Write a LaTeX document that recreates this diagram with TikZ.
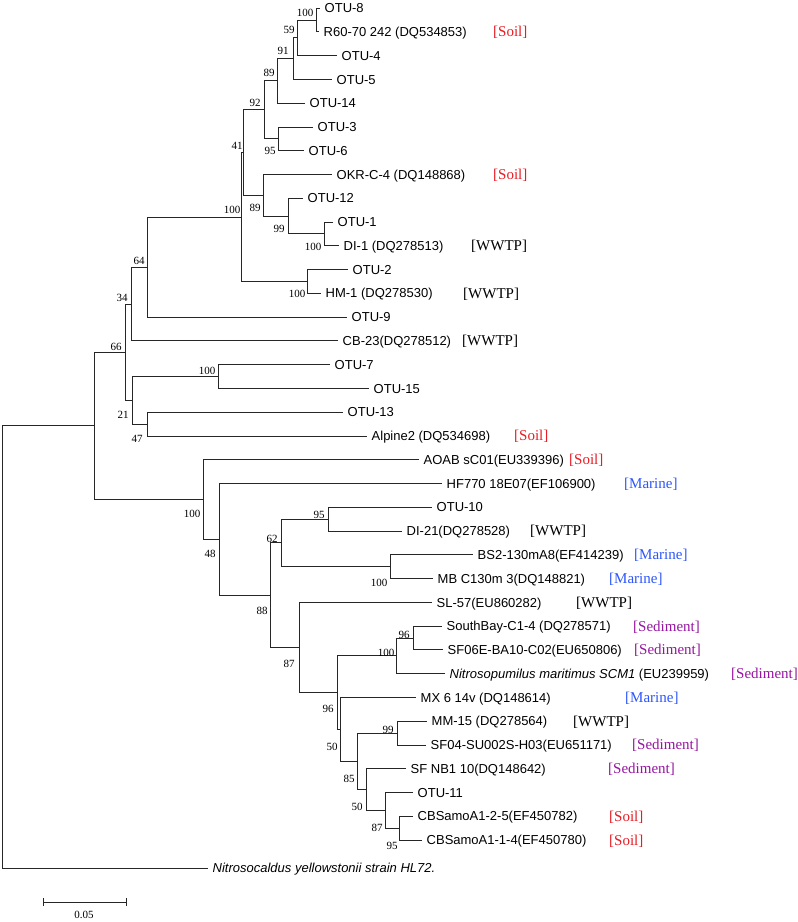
\documentclass[tikz,border=0pt]{standalone}
\usepackage{fontspec}
\setmainfont{Liberation Serif}
\newfontfamily\hv{Liberation Sans}
\definecolor{soil}{RGB}{232,28,36}
\definecolor{marine}{RGB}{45,85,250}
\definecolor{sediment}{RGB}{150,20,160}
\begin{document}
\begin{tikzpicture}[x=1pt,y=-1pt,
  leaf/.style={anchor=west,inner xsep=4.5pt,inner ysep=0pt,font=\hv\fontsize{13}{15}\selectfont,text height=9.5pt,text depth=0pt},
  hab/.style={anchor=west,inner sep=0pt,font=\fontsize{15}{17}\selectfont,text height=10pt,text depth=0pt},
  bs/.style={anchor=center,inner sep=0pt,font=\fontsize{11}{13}\selectfont},
  br/.style={draw=black!85,line width=0.8pt}]
\useasboundingbox (0,0) rectangle (798,922);
% ---------- internal nodes ----------
\coordinate (a100) at (316,19.9);
\coordinate (a59) at (297,37.7);
\coordinate (a91) at (293,58.5);
\coordinate (a89) at (277,80.8);
\coordinate (a95) at (278,138.75);
\coordinate (a92) at (264,109.8);
\coordinate (a100c) at (324,233.8);
\coordinate (a99) at (288,216);
\coordinate (a89b) at (263,195.2);
\coordinate (a41) at (243,152.5);
\coordinate (aHM) at (307,281.35);
\coordinate (a100big) at (241,216.9);
\coordinate (a64) at (147,267);
\coordinate (a34) at (131,303.9);
\coordinate (a100d) at (218,376.45);
\coordinate (a47) at (147,424);
\coordinate (a21) at (132,400.2);
\coordinate (a66) at (125,352.05);
\coordinate (b95) at (328,519.05);
\coordinate (b100) at (390,566.6);
\coordinate (b62) at (281,542.8);
\coordinate (b96s) at (413,637.9);
\coordinate (b100s) at (396,655.75);
\coordinate (b95c) at (399,828.1);
\coordinate (b87c) at (385,810.25);
\coordinate (b50b) at (366,789.4);
\coordinate (b99) at (397,733);
\coordinate (b85) at (357,761.2);
\coordinate (b50a) at (340,729.25);
\coordinate (b96) at (337,692.5);
\coordinate (b87) at (299,647.4);
\coordinate (b88) at (270,595.1);
\coordinate (b48) at (219,539.25);
\coordinate (b100m) at (203,499.4);
\coordinate (X) at (94,425.7);
\coordinate (root) at (2,646.9);
% ---------- leaves ----------
\node[leaf] (l0) at (320,8) {OTU-8};
\node[leaf] (l1) at (319,31.8) {R60-70 242 (DQ534853)};
\node[leaf] (l2) at (337,55.5) {OTU-4};
\node[leaf] (l3) at (332,79.3) {OTU-5};
\node[leaf] (l4) at (305,103.1) {OTU-14};
\node[leaf] (l5) at (313,126.9) {OTU-3};
\node[leaf] (l6) at (304,150.6) {OTU-6};
\node[leaf] (l7) at (332,174.4) {OKR-C-4 (DQ148868)};
\node[leaf] (l8) at (303,198.2) {OTU-12};
\node[leaf] (l9) at (333,221.9) {OTU-1};
\node[leaf] (l10) at (339,245.7) {DI-1 (DQ278513)};
\node[leaf] (l11) at (348,269.5) {OTU-2};
\node[leaf] (l12) at (321,293.2) {HM-1 (DQ278530)};
\node[leaf] (l13) at (347,317.0) {OTU-9};
\node[leaf] (l14) at (338,340.8) {CB-23(DQ278512)};
\node[leaf] (l15) at (330,364.6) {OTU-7};
\node[leaf] (l16) at (369,388.3) {OTU-15};
\node[leaf] (l17) at (343,412.1) {OTU-13};
\node[leaf] (l18) at (367,435.9) {Alpine2 (DQ534698)};
\node[leaf] (l19) at (419,459.6) {AOAB sC01(EU339396)};
\node[leaf] (l20) at (442,483.4) {HF770 18E07(EF106900)};
\node[leaf] (l21) at (432,507.2) {OTU-10};
\node[leaf] (l22) at (402,530.9) {DI-21(DQ278528)};
\node[leaf] (l23) at (473,554.7) {BS2-130mA8(EF414239)};
\node[leaf] (l24) at (433,578.5) {MB C130m 3(DQ148821)};
\node[leaf] (l25) at (432,602.3) {SL-57(EU860282)};
\node[leaf] (l26) at (442,626.0) {SouthBay-C1-4 (DQ278571)};
\node[leaf] (l27) at (443,649.8) {SF06E-BA10-C02(EU650806)};
\node[leaf] (l28) at (445,673.6) {\itshape Nitrosopumilus maritimus SCM1\upshape{} (EU239959)};
\node[leaf] (l29) at (416,697.3) {MX 6 14v (DQ148614)};
\node[leaf] (l30) at (427,721.1) {MM-15 (DQ278564)};
\node[leaf] (l31) at (426,744.9) {SF04-SU002S-H03(EU651171)};
\node[leaf] (l32) at (406,768.6) {SF NB1 10(DQ148642)};
\node[leaf] (l33) at (413,792.4) {OTU-11};
\node[leaf] (l34) at (413,816.2) {CBSamoA1-2-5(EF450782)};
\node[leaf] (l35) at (422,840.0) {CBSamoA1-1-4(EF450780)};
\node[leaf] (lNC) at (208,868) {\itshape Nitrosocaldus yellowstonii strain HL72.};
% ---------- habitats ----------
\node[hab,text=soil] (h1) at (493,31.8) {[Soil]};
\node[hab,text=soil] (h7) at (493,174.4) {[Soil]};
\node[hab] (h10) at (471,245.7) {[WWTP]};
\node[hab] (h12) at (463,293.2) {[WWTP]};
\node[hab] (h14) at (462,340.8) {[WWTP]};
\node[hab,text=soil] (h18) at (514,435.9) {[Soil]};
\node[hab,text=soil] (h19) at (569,459.6) {[Soil]};
\node[hab,text=marine] (h20) at (624,483.4) {[Marine]};
\node[hab] (h22) at (530,530.9) {[WWTP]};
\node[hab,text=marine] (h23) at (634,554.7) {[Marine]};
\node[hab,text=marine] (h24) at (609,578.5) {[Marine]};
\node[hab] (h25) at (576,602.3) {[WWTP]};
\node[hab,text=sediment] (h26) at (633,626.0) {[Sediment]};
\node[hab,text=sediment] (h27) at (634,649.8) {[Sediment]};
\node[hab,text=sediment] (h28) at (731,673.6) {[Sediment]};
\node[hab,text=marine] (h29) at (625,697.3) {[Marine]};
\node[hab] (h30) at (573,721.1) {[WWTP]};
\node[hab,text=sediment] (h31) at (632,744.9) {[Sediment]};
\node[hab,text=sediment] (h32) at (608,768.6) {[Sediment]};
\node[hab,text=soil] (h34) at (609,816.2) {[Soil]};
\node[hab,text=soil] (h35) at (609,840.0) {[Soil]};
% ---------- branches ----------
\draw[br] (a100) |- (l0.west);
\draw[br] (a100) |- (l1.west);
\draw[br] (a59) |- (a100);
\draw[br] (a59) |- (l2.west);
\draw[br] (a91) |- (a59);
\draw[br] (a91) |- (l3.west);
\draw[br] (a89) |- (a91);
\draw[br] (a89) |- (l4.west);
\draw[br] (a95) |- (l5.west);
\draw[br] (a95) |- (l6.west);
\draw[br] (a92) |- (a89);
\draw[br] (a92) |- (a95);
\draw[br] (a100c) |- (l9.west);
\draw[br] (a100c) |- (l10.west);
\draw[br] (a99) |- (l8.west);
\draw[br] (a99) |- (a100c);
\draw[br] (a89b) |- (l7.west);
\draw[br] (a89b) |- (a99);
\draw[br] (a41) |- (a92);
\draw[br] (a41) |- (a89b);
\draw[br] (aHM) |- (l11.west);
\draw[br] (aHM) |- (l12.west);
\draw[br] (a100big) |- (a41);
\draw[br] (a100big) |- (aHM);
\draw[br] (a64) |- (a100big);
\draw[br] (a64) |- (l13.west);
\draw[br] (a34) |- (a64);
\draw[br] (a34) |- (l14.west);
\draw[br] (a100d) |- (l15.west);
\draw[br] (a100d) |- (l16.west);
\draw[br] (a47) |- (l17.west);
\draw[br] (a47) |- (l18.west);
\draw[br] (a21) |- (a100d);
\draw[br] (a21) |- (a47);
\draw[br] (a66) |- (a34);
\draw[br] (a66) |- (a21);
\draw[br] (b95) |- (l21.west);
\draw[br] (b95) |- (l22.west);
\draw[br] (b100) |- (l23.west);
\draw[br] (b100) |- (l24.west);
\draw[br] (b62) |- (b95);
\draw[br] (b62) |- (b100);
\draw[br] (b96s) |- (l26.west);
\draw[br] (b96s) |- (l27.west);
\draw[br] (b100s) |- (b96s);
\draw[br] (b100s) |- (l28.west);
\draw[br] (b95c) |- (l34.west);
\draw[br] (b95c) |- (l35.west);
\draw[br] (b87c) |- (l33.west);
\draw[br] (b87c) |- (b95c);
\draw[br] (b50b) |- (l32.west);
\draw[br] (b50b) |- (b87c);
\draw[br] (b99) |- (l30.west);
\draw[br] (b99) |- (l31.west);
\draw[br] (b85) |- (b99);
\draw[br] (b85) |- (b50b);
\draw[br] (b50a) |- (l29.west);
\draw[br] (b50a) |- (b85);
\draw[br] (b96) |- (b100s);
\draw[br] (b96) |- (b50a);
\draw[br] (b87) |- (l25.west);
\draw[br] (b87) |- (b96);
\draw[br] (b88) |- (b62);
\draw[br] (b88) |- (b87);
\draw[br] (b48) |- (l20.west);
\draw[br] (b48) |- (b88);
\draw[br] (b100m) |- (l19.west);
\draw[br] (b100m) |- (b48);
\draw[br] (X) |- (a66);
\draw[br] (X) |- (b100m);
\draw[br] (root) |- (X);
\draw[br] (root) |- (lNC.west);
% ---------- bootstrap values ----------
\node[bs] (s1) at (305,13) {100};
\node[bs] (s2) at (289,30) {59};
\node[bs] (s3) at (283,51) {91};
\node[bs] (s4) at (269,73) {89};
\node[bs] (s5) at (255,103) {92};
\node[bs] (s6) at (270,151) {95};
\node[bs] (s7) at (237,146) {41};
\node[bs] (s8) at (232,210) {100};
\node[bs] (s9) at (255,208) {89};
\node[bs] (s10) at (279,229) {99};
\node[bs] (s11) at (313,247) {100};
\node[bs] (s12) at (297,294) {100};
\node[bs] (s13) at (139,261) {64};
\node[bs] (s14) at (122,298) {34};
\node[bs] (s15) at (116,347) {66};
\node[bs] (s16) at (207,371) {100};
\node[bs] (s17) at (123,415) {21};
\node[bs] (s18) at (137,439) {47};
\node[bs] (s19) at (192,514) {100};
\node[bs] (s20) at (210,554) {48};
\node[bs] (s21) at (319,515) {95};
\node[bs] (s22) at (272,539) {62};
\node[bs] (s23) at (262,611) {88};
\node[bs] (s24) at (379,583) {100};
\node[bs] (s25) at (289,664) {87};
\node[bs] (s26) at (404,635) {96};
\node[bs] (s27) at (386,653) {100};
\node[bs] (s28) at (328,709) {96};
\node[bs] (s29) at (388,730) {99};
\node[bs] (s30) at (332,747) {50};
\node[bs] (s31) at (349,779) {85};
\node[bs] (s32) at (357,807) {50};
\node[bs] (s33) at (377,828) {87};
\node[bs] (s34) at (392,846) {95};
% ---------- scale bar ----------
\coordinate (sbL) at (43,902);
\coordinate (sbR) at (126,902);
\draw[br] (sbL) -- (sbR);
\draw[br] ([yshift=-4pt]sbL) -- ([yshift=4pt]sbL);
\draw[br] ([yshift=-4pt]sbR) -- ([yshift=4pt]sbR);
\node[bs] (sbT) at (84,915) {0.05};
\end{tikzpicture}
\end{document}
